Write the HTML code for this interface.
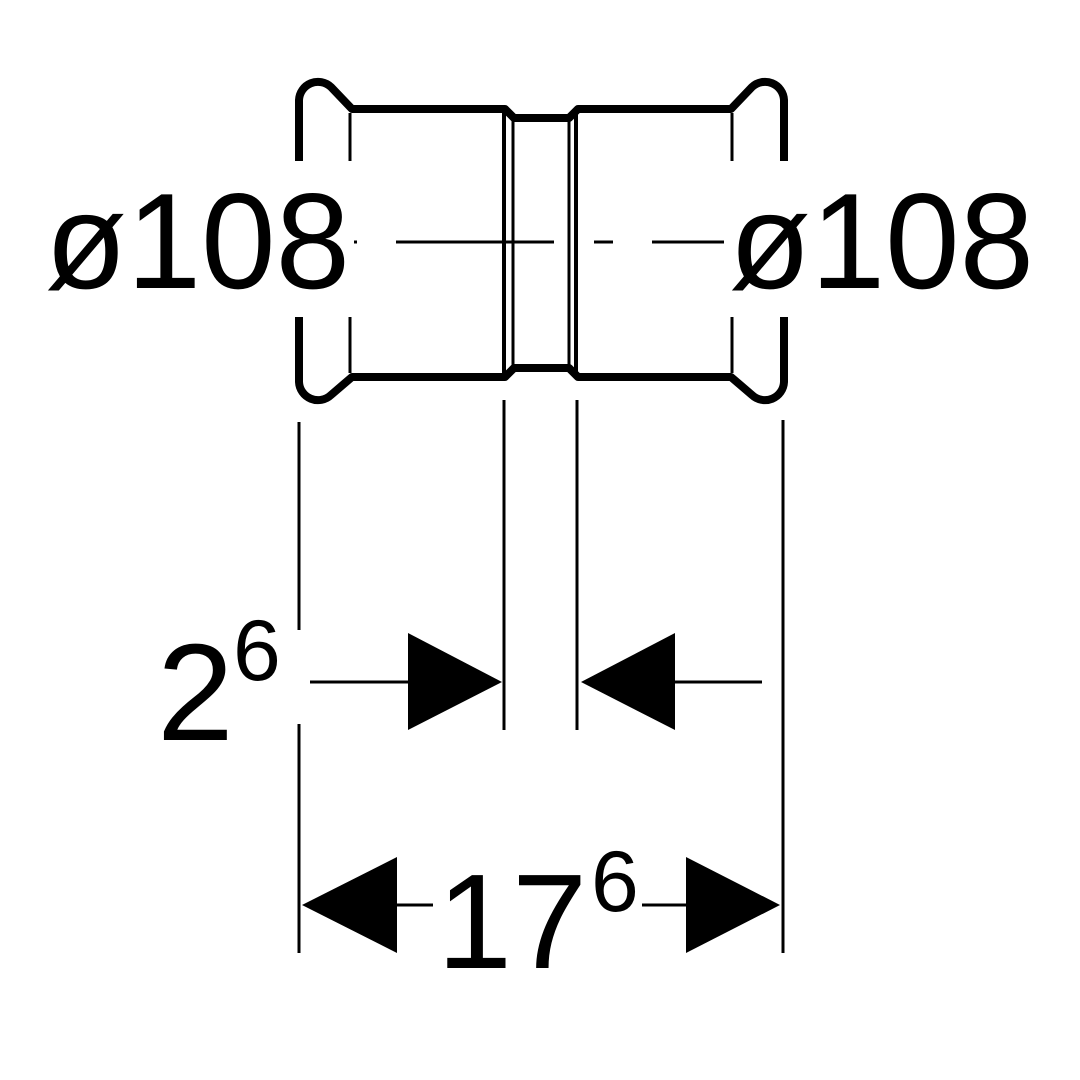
<!DOCTYPE html>
<html><head><meta charset="utf-8"><style>html,body{margin:0;padding:0;background:#fff}svg{display:block}</style></head>
<body>
<svg width="1080" height="1080" viewBox="0 0 1080 1080" xmlns="http://www.w3.org/2000/svg" font-family="Liberation Sans, sans-serif">
<rect width="1080" height="1080" fill="#fff"/>
<g fill="none" stroke="#000" stroke-linejoin="round">
<path d="M299 161 V100 A19 19 0 0 1 331 87 L352 109 H505 L514 118 H569 L578 109 H731 L752 87 A19 19 0 0 1 784 100 V161" stroke-width="8"/>
<path d="M299 317 V382 A19 19 0 0 0 331 395 L352 377 H505 L514 368 H569 L578 377 H731 L752 395 A19 19 0 0 0 784 382 V317" stroke-width="8"/>
<path d="M350 113 V161 M350 317 V373 M732 113 V161 M732 317 V373" stroke-width="3"/>
<path d="M504 112 V375 M576 112 V375" stroke-width="4"/>
<path d="M513 120 V367 M569 120 V367" stroke-width="3"/>
<path d="M396 242 H554 M594 242 H613 M652 242 H724 M354 242 H357" stroke-width="3"/>
<path d="M299 422 V630 M299 724 V953 M504 400 V730 M577 400 V730 M783 420 V953" stroke-width="3"/>
<path d="M310 682 H410 M675 682 H762 M397 905 H433 M642 905 H688" stroke-width="3"/>
</g>
<g fill="#000">
<polygon points="408,633 502,682 408,730"/>
<polygon points="675,633 581,682 675,730"/>
<polygon points="397,857 302,905 397,953"/>
<polygon points="686,857 780,905 686,953"/>
</g>
<g fill="#000">
<text x="45" y="288" font-size="136" textLength="305" lengthAdjust="spacingAndGlyphs">ø108</text>
<text x="729" y="288" font-size="136" textLength="305" lengthAdjust="spacingAndGlyphs">ø108</text>
<text x="157" y="740" font-size="138">2</text>
<text x="233" y="680" font-size="86">6</text>
<text x="437" y="968" font-size="135">17</text>
<text x="591" y="911" font-size="86">6</text>
</g>
</svg>
</body></html>
